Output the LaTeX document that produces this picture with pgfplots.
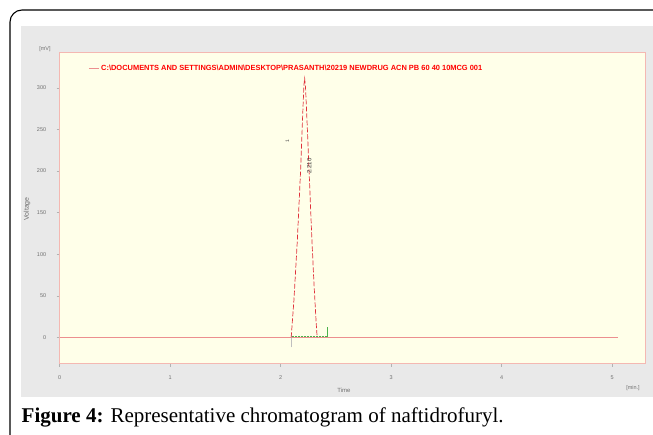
\documentclass[border=0pt]{standalone}
\usepackage{pgfplots}
\pgfplotsset{compat=1.18}
\usepackage{fontspec}
\setmainfont{Liberation Serif}
\newfontfamily\chartfont{Liberation Sans}
\definecolor{panelgray}{HTML}{E9E9E9}
\definecolor{plotbg}{HTML}{FFFFE9}
\definecolor{axisborder}{HTML}{F4B8B2}
\definecolor{peakred}{HTML}{E0303A}
\definecolor{baseline}{HTML}{EC8F8F}
\definecolor{labelgray}{HTML}{707070}

\pgfplotstableread{
x y
2.095 0
2.12 45
2.15 115
2.18 200
2.20 270
2.21 303
2.217 311
2.225 300
2.24 255
2.26 190
2.28 125
2.30 68
2.32 20
2.33 0
}\peakdata

\begin{document}
\begin{tikzpicture}[x=1pt,y=1pt]
\path[use as bounding box] (0,0) rectangle (653,434);
\begin{scope}
\clip (0,0) rectangle (653,434);
\draw[line width=1.1pt, rounded corners=12pt] (10,-20) -- (10,424) -- (680,424);
\fill[panelgray] (21,37) rectangle (660,408);
\end{scope}

\begin{axis}[
  at={(54,84.5)}, anchor=south west,
  scale only axis, width=586pt, height=311pt,
  xmin=0, xmax=5.303, ymin=-31.6, ymax=342.2,
  axis background/.style={fill=plotbg},
  axis line style={draw=axisborder, line width=0.8pt},
  xtick={0,1,2,3,4,5}, ytick={0,50,100,150,200,250,300},
  tick align=outside, major tick length=3pt,
  tick style={draw=gray!60, line width=0.4pt},
  xtick pos=bottom, ytick pos=left,
  ticklabel style={font=\chartfont\fontsize{5.5}{6}\selectfont, text=labelgray},
  /pgf/number format/assume math mode=true,
  yticklabel style={xshift=-7pt},
  xticklabel style={yshift=-5pt},
  clip=false,
  legend style={at={(0.049,0.9486)}, anchor=west, draw=none, fill=none,
    font=\chartfont\bfseries\fontsize{7.45}{8}\selectfont, text=red,
    inner sep=0pt},
  legend cell align=left,
  legend image code/.code={\draw[#1] (0pt,0pt) -- (10pt,0pt);},
]
\addlegendimage{color=baseline, line width=0.6pt}
\addlegendentry{C:\textbackslash DOCUMENTS AND SETTINGS\textbackslash ADMIN\textbackslash DESKTOP\textbackslash PRASANTH\textbackslash 20219 NEWDRUG ACN PB 60 40 10MCG 001}

\addplot[forget plot, color=baseline, line width=0.7pt] coordinates {(0,0) (5.05,0)};
\addplot[forget plot, color=gray!60!green, line width=0.5pt, densely dotted] coordinates {(2.10,0.8) (2.42,0.8)};
\addplot[forget plot, color=gray!60!green, line width=0.5pt] coordinates {(2.42,0) (2.42,12)};
\addplot[forget plot, color=gray!50, line width=0.3pt] coordinates {(2.095,-12) (2.095,5)};
\addplot[forget plot, color=peakred, line width=0.7pt, dash pattern=on 5pt off 2pt] table[x=x,y=y] {\peakdata};

\node[rotate=90, font=\chartfont\fontsize{5}{6}\selectfont, text=black!70] at (axis cs:2.06,236) {1};
\node[rotate=90, font=\chartfont\fontsize{6}{7}\selectfont, text=black!80] at (axis cs:2.258,206) {2.210};
\end{axis}

\node[font=\chartfont\fontsize{5.5}{6}\selectfont, text=labelgray] at (45,385) {[mV]};
\node[rotate=90, font=\chartfont\fontsize{7}{8}\selectfont, text=labelgray] at (27,225) {Voltage};
\node[font=\chartfont\fontsize{6}{7}\selectfont, text=labelgray] at (344,44) {Time};
\node[font=\chartfont\fontsize{5.5}{6}\selectfont, text=labelgray] at (633,46) {[min.]};

\node[anchor=base west, inner sep=0pt, font=\fontsize{21}{23}\selectfont] at (21.5,12) {\textbf{Figure 4:} Representative chromatogram of naftidrofuryl.};
\end{tikzpicture}
\end{document}
